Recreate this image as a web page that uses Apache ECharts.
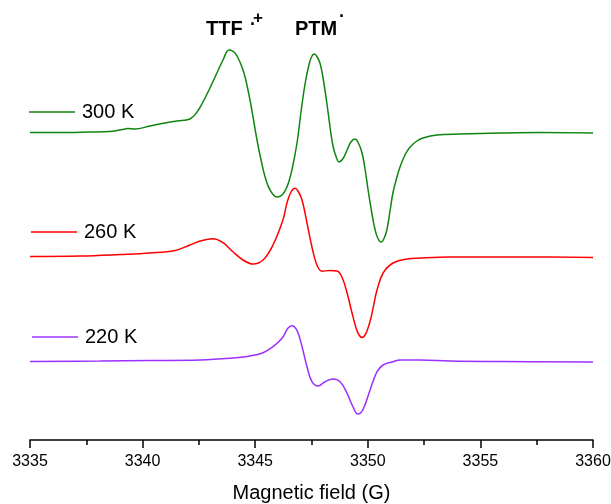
<!DOCTYPE html>
<html>
<head>
<meta charset="utf-8">
<script src="https://cdn.jsdelivr.net/npm/echarts@6/dist/echarts.min.js"></script>
<style>html,body{margin:0;padding:0;background:#fff}#c{width:611px;height:504px}</style>
</head>
<body>
<div id="c"></div>
<script>
// Magnetic field (G) and EPR signal (arbitrary units, baseline = 0)
const field300 = [3335.00,3336.33,3337.66,3338.55,3339.22,3339.35,3339.66,3340.33,3340.99,3341.53,3342.10,3342.42,3342.68,3342.99,3343.30,3343.57,3343.84,3344.06,3344.24,3344.41,3344.55,3344.77,3344.90,3345.08,3345.26,3345.44,3345.66,3345.97,3346.19,3346.41,3346.63,3346.86,3347.03,3347.21,3347.39,3347.52,3347.63,3347.74,3347.88,3348.01,3348.19,3348.32,3348.45,3348.59,3348.72,3348.90,3349.08,3349.25,3349.43,3349.56,3349.74,3349.88,3350.01,3350.19,3350.32,3350.45,3350.59,3350.72,3350.85,3350.99,3351.12,3351.30,3351.43,3351.65,3351.88,3352.18,3352.45,3353.07,3354.09,3355.87,3357.65,3360.00];
const signal300 = [0,0,0.5,1,3.5,4,3.5,6.5,9.5,11.5,13.5,20.5,30.5,44.5,59.5,72.5,82.5,80.5,74.5,65.5,55.5,32.5,16,-7.5,-27.5,-44.5,-57.5,-64.5,-62.5,-54.5,-37.5,-10,20,48,68,76.5,78.5,76,69,55,28,6,-13,-24,-29.5,-26,-17.5,-9.5,-6.5,-9.5,-20,-37,-57,-82,-97,-106,-109.5,-106,-97,-78,-60,-44,-34.5,-22.5,-14.5,-8.5,-5.5,-2.5,-1.5,-0.5,0,-0.5];

const field260 = [3335.00,3337.22,3339.00,3340.33,3341.44,3342.10,3342.55,3343.13,3343.57,3344.01,3344.46,3344.90,3345.35,3345.79,3346.23,3346.41,3346.59,3346.77,3346.90,3347.08,3347.30,3347.52,3347.74,3347.97,3348.32,3348.63,3348.85,3349.08,3349.30,3349.48,3349.61,3349.74,3349.88,3350.01,3350.14,3350.28,3350.41,3350.68,3351.12,3351.74,3352.32,3353.65,3355.87,3358.09,3360.00];
const signal260 = [0.5,1,2.5,4,6.5,12,16,18.3,14.3,5.3,-3,-7,-3,12,37,54,65,68.7,66,57,34,10,-8,-14.2,-13.5,-14,-20,-36,-56,-71,-78,-80.5,-78,-71,-61,-46,-33,-16,-6,-2,-1,0,0,0,-0.5];

const field220 = [3335.00,3338.11,3340.33,3342.55,3343.88,3344.77,3345.35,3345.79,3346.19,3346.46,3346.63,3346.86,3347.08,3347.30,3347.52,3347.79,3348.10,3348.45,3348.77,3349.08,3349.34,3349.56,3349.79,3350.10,3350.41,3350.68,3351.12,3351.43,3352.32,3353.65,3355.87,3360.00];
const signal220 = [0,0.5,1,1.5,3.2,5.5,8.8,14.8,23.2,33.5,35.8,30.8,14.8,-5.2,-20.2,-24.5,-20.2,-17.5,-20.2,-31.8,-45.2,-52.5,-47.8,-28.5,-10.2,-3.5,-0.2,1.5,1.5,0.5,0,-0.5];

// vertical stacking offsets of the three spectra
const offsets = [307.5, 183, 78.5];
const seriesNames = ['300 K', '260 K', '220 K'];
const xTicks = [3335, 3340, 3345, 3350, 3355, 3360];

const colors = ['#0f850f', '#ff0000', '#9b30ff'];
const FONT = 'Liberation Sans, Arial, sans-serif';

function build(f, s, off) { return f.map((x, i) => [x, s[i] + off]); }
const datasets = [build(field300, signal300, offsets[0]), build(field260, signal260, offsets[1]), build(field220, signal220, offsets[2])];

const chart = echarts.init(document.getElementById('c'), null, {renderer: 'canvas'});
const legendTops = [102, 222, 327];
const legendLefts = [29, 31, 32];
chart.setOption({
  animation: false,
  backgroundColor: '#fff',
  grid: {left: 30, right: 18, top: 0, bottom: 64, outerBoundsMode: 'none', containLabel: false},
  xAxis: {
    type: 'value', min: xTicks[0], max: xTicks[xTicks.length - 1], interval: 5,
    name: 'Magnetic field (G)', nameLocation: 'middle', nameGap: 43,
    nameTextStyle: {fontSize: 20, color: '#000', fontFamily: FONT},
    axisLine: {show: true, lineStyle: {color: '#000', width: 1.5}},
    axisTick: {show: true, length: 8, lineStyle: {color: '#000', width: 1.5}},
    minorTick: {show: true, splitNumber: 2, length: 5, lineStyle: {color: '#000', width: 1.5}},
    axisLabel: {fontSize: 16, color: '#000', margin: 14, fontFamily: FONT, formatter: v => String(v)},
    splitLine: {show: false}
  },
  yAxis: {type: 'value', min: 0, max: 440, show: false, splitLine: {show: false}},
  legend: seriesNames.map((n, i) => ({
    data: [{name: n, icon: 'rect'}], left: legendLefts[i], top: legendTops[i], padding: 0,
    itemWidth: 46, itemHeight: 1.5, itemGap: 0, selectedMode: false,
    textStyle: {fontSize: 20, color: '#000', fontFamily: FONT, padding: [0, 0, 0, 2]}
  })),
  series: seriesNames.map((n, i) => ({
    name: n, type: 'line', data: datasets[i], showSymbol: false, symbol: 'none', smooth: 0.4,
    lineStyle: {color: colors[i], width: 1.5}, itemStyle: {color: colors[i]}
  })),
  graphic: [
    {type: 'text', left: 206, top: 19, style: {text: 'TTF', fontSize: 20, fontWeight: 'bold', fill: '#000', fontFamily: FONT}},
    {type: 'text', left: 250, top: 16, style: {text: '·', fontSize: 18, fontWeight: 'bold', fill: '#000', fontFamily: FONT}},
    {type: 'text', left: 253, top: 10, style: {text: '+', fontSize: 17, fontWeight: 'bold', fill: '#000', fontFamily: FONT}},
    {type: 'text', left: 339, top: 8, style: {text: '·', fontSize: 18, fontWeight: 'bold', fill: '#000', fontFamily: FONT}},
    {type: 'text', left: 295, top: 19, style: {text: 'PTM', fontSize: 20, fontWeight: 'bold', fill: '#000', fontFamily: FONT}}
  ]
});
</script>
</body>
</html>
